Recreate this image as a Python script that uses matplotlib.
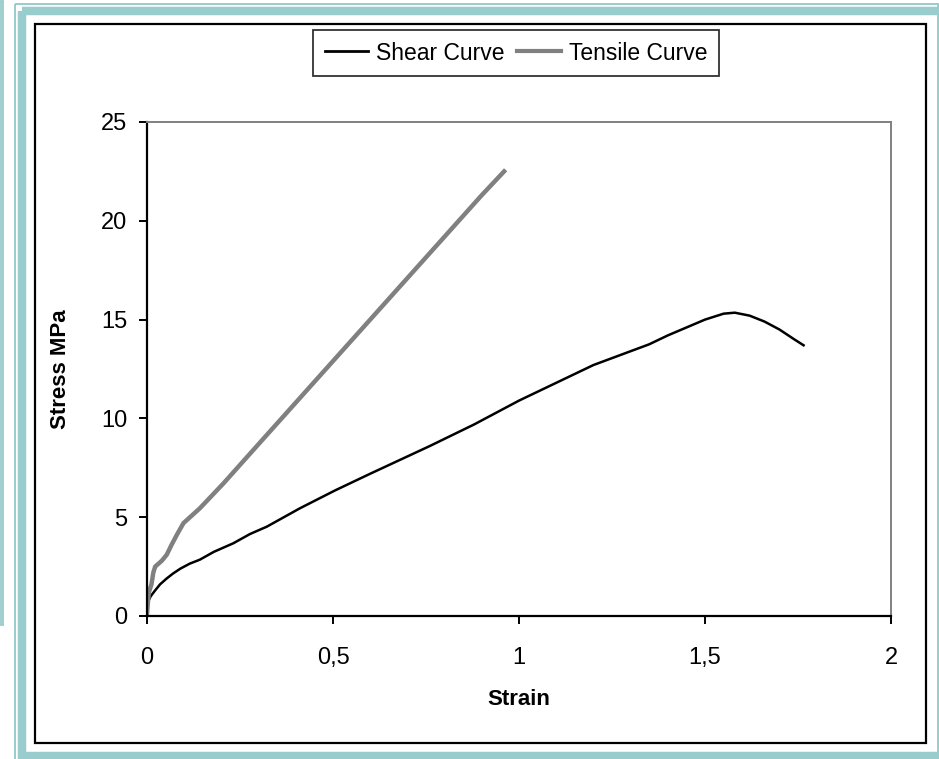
import matplotlib
matplotlib.use("Agg")
import matplotlib.pyplot as plt
from matplotlib.patches import Rectangle

# datos
shear_strain = [0.0, 0.002, 0.01, 0.02, 0.035, 0.053, 0.07, 0.09, 0.115, 0.142, 0.18,
                0.232, 0.277, 0.322, 0.411, 0.505, 0.6, 0.76, 0.88, 1.0, 1.1, 1.2,
                1.3, 1.35, 1.4, 1.45, 1.5, 1.55, 1.58, 1.62, 1.66, 1.7, 1.74, 1.765]
shear_stress = [0.5, 0.7, 1.0, 1.25, 1.6, 1.9, 2.15, 2.4, 2.65, 2.85, 3.25,
                3.68, 4.15, 4.52, 5.45, 6.35, 7.2, 8.6, 9.7, 10.9, 11.8, 12.7,
                13.4, 13.75, 14.2, 14.6, 15.0, 15.3, 15.35, 15.2, 14.9, 14.5, 14.0, 13.7]

tensile_strain = [0.0, 0.003, 0.005, 0.012, 0.017, 0.022, 0.04, 0.053, 0.066, 0.08,
                  0.098, 0.142, 0.205, 0.3, 0.4, 0.5, 0.6, 0.7, 0.8, 0.9, 0.96]
tensile_stress = [0.1, 0.8, 1.2, 1.6, 2.2, 2.5, 2.8, 3.1, 3.6, 4.1,
                  4.7, 5.45, 6.7, 8.7, 10.8, 12.9, 15.0, 17.1, 19.2, 21.3, 22.5]

x_ticks = [0, 0.5, 1, 1.5, 2]
x_labels = ["0", "0,5", "1", "1,5", "2"]
y_ticks = [0, 5, 10, 15, 20, 25]

plt.rcParams['font.family'] = ['Liberation Sans', 'DejaVu Sans']
W, H = 939, 759
fig = plt.figure(figsize=(W / 100, H / 100), dpi=100)

# marco decorativo (en pixeles)
deco = fig.add_axes([0, 0, 1, 1])
deco.set_xlim(0, W)
deco.set_ylim(H, 0)
deco.axis("off")
teal = "#99cccc"
def rect(x, y, w, h, lw, col=teal):
    deco.add_patch(Rectangle((x, y), w, h, fill=False, edgecolor=col, lw=lw))
rect(0.8, 0.5, 2.5, 624, 1.3)            # bloque exterior izquierdo
rect(15, 4.2, 923, 770, 1.4)             # borde fino
rect(21.7, 10.8, 940, 744.7, 6.1)        # borde grueso
rect(35, 24, 891, 719, 1.6, "black")     # marco negro del grafico

ax = fig.add_axes([147 / W, 1 - 616 / H, (891 - 147) / W, (616 - 122) / H])
ax.plot(shear_strain, shear_stress, color="black", lw=1.8, label="Shear Curve")
ax.plot(tensile_strain, tensile_stress, color="#808080", lw=3.2, label="Tensile Curve")

ax.set_xlim(0, 2)
ax.set_ylim(0, 25)
ax.set_xticks(x_ticks)
ax.set_xticklabels(x_labels)
ax.set_yticks(y_ticks)
ax.tick_params(axis="both", labelsize=17, length=6, width=1.4, direction="out", color="black")
ax.tick_params(axis="x", pad=16)
ax.tick_params(axis="y", pad=8)
for s in ["top", "right"]:
    ax.spines[s].set_color("#808080")
    ax.spines[s].set_linewidth(1.4)
for s in ["left", "bottom"]:
    ax.spines[s].set_color("black")
    ax.spines[s].set_linewidth(1.6)

ax.set_xlabel("Strain", fontsize=16, fontweight="bold", labelpad=15)
ax.set_ylabel("Stress MPa", fontsize=16, fontweight="bold", labelpad=22)

leg = fig.legend(loc="center", bbox_to_anchor=(516 / W, 1 - 53 / H), ncol=2, fontsize=16.5,
                 frameon=True, fancybox=False, edgecolor="black", handlelength=1.9,
                 handletextpad=0.35, columnspacing=0.55, borderpad=0.5, borderaxespad=0)
leg.get_frame().set_linewidth(1.3)
leg.get_lines()[0].set_linewidth(2.0)
leg.get_lines()[1].set_linewidth(3.0)

plt.savefig("out.png", dpi=100)
plt.close()
